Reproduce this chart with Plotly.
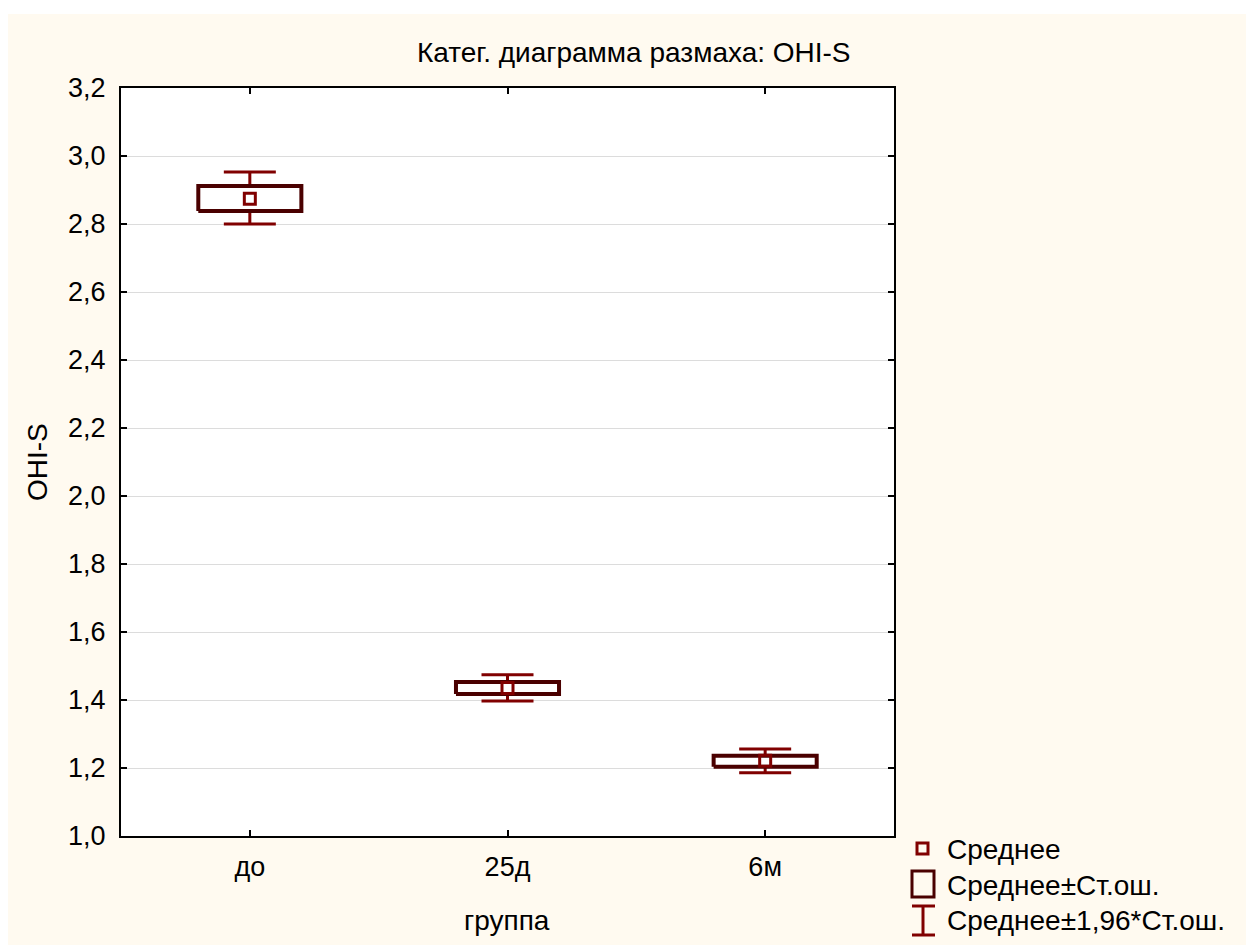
import plotly.graph_objects as go

# ---- data ----
groups = ["до", "25д", "6м"]
means = [2.874, 1.435, 1.221]
se_lo = [2.838, 1.418, 1.204]
se_hi = [2.912, 1.453, 1.236]
ci_lo = [2.800, 1.397, 1.186]
ci_hi = [2.953, 1.474, 1.256]
y_ticks = [1.0, 1.2, 1.4, 1.6, 1.8, 2.0, 2.2, 2.4, 2.6, 2.8, 3.0, 3.2]

title_text = "Катег. диаграмма размаха: OHI-S"
x_title = "группа"
y_title = "OHI-S"
legend_labels = ["Среднее", "Среднее±Ст.ош.", "Среднее±1,96*Ст.ош."]

# ---- layout geometry ----
W, H = 1246, 945
L, R, T, B = 121, 894, 88, 836
CREAM = "#fffaf0"
RED = "#800000"
DARK = "#4a0000"
FONT = "Liberation Sans, Arial, sans-serif"
FS = 27
FS_TXT = 28

def px(xpix):
    return (xpix - L) / (R - L)

def py(ypix):
    return (B - ypix) / (B - T)

xs = list(range(len(groups)))
half_box = 0.2

fig = go.Figure()

# whiskers: mean ± 1.96*SE
fig.add_trace(go.Scatter(
    x=xs, y=means, mode="markers",
    marker=dict(size=1, color="rgba(0,0,0,0)"),
    error_y=dict(type="data", symmetric=False,
                 array=[h - m for h, m in zip(ci_hi, means)],
                 arrayminus=[m - l for m, l in zip(means, ci_lo)],
                 color=RED, thickness=3, width=26),
    showlegend=False, hoverinfo="skip"))

# boxes: mean ± SE
for i, (lo, hi) in enumerate(zip(se_lo, se_hi)):
    fig.add_trace(go.Scatter(
        x=[i - half_box, i + half_box, i + half_box, i - half_box, i - half_box],
        y=[lo, lo, hi, hi, lo], mode="lines", fill="toself",
        fillcolor="white", line=dict(color=DARK, width=4),
        showlegend=False, hoverinfo="skip"))

# mean markers
fig.add_trace(go.Scatter(
    x=xs, y=means, mode="markers",
    marker=dict(symbol="square-open", size=11, color=RED, line=dict(width=3, color=RED)),
    showlegend=False))

shapes = [
    # white strips outside the cream area
    dict(type="rect", xref="paper", yref="paper", x0=px(0), x1=px(W), y0=py(14), y1=py(0),
         fillcolor="white", line=dict(width=0), layer="below"),
    dict(type="rect", xref="paper", yref="paper", x0=px(0), x1=px(8), y0=py(H), y1=py(0),
         fillcolor="white", line=dict(width=0), layer="below"),
    # legend symbols
    dict(type="rect", xref="paper", yref="paper", x0=px(917), x1=px(928), y0=py(854), y1=py(843),
         fillcolor="rgba(0,0,0,0)", line=dict(color=RED, width=3)),
    dict(type="rect", xref="paper", yref="paper", x0=px(912), x1=px(934), y0=py(897), y1=py(871),
         fillcolor="rgba(0,0,0,0)", line=dict(color=DARK, width=3)),
    dict(type="line", xref="paper", yref="paper", x0=px(923), x1=px(923), y0=py(935), y1=py(906),
         line=dict(color=RED, width=3)),
    dict(type="line", xref="paper", yref="paper", x0=px(912), x1=px(935), y0=py(906), y1=py(906),
         line=dict(color=RED, width=3)),
    dict(type="line", xref="paper", yref="paper", x0=px(912), x1=px(935), y0=py(935), y1=py(935),
         line=dict(color=RED, width=3)),
]

annotations = [
    dict(text=title_text, xref="paper", yref="paper", x=px(634), y=py(53),
         showarrow=False, font=dict(size=FS_TXT, color="black", family=FONT),
         xanchor="center", yanchor="middle"),
    dict(text=x_title, xref="paper", yref="paper", x=px(507), y=py(920),
         showarrow=False, font=dict(size=FS_TXT, color="black", family=FONT),
         xanchor="center", yanchor="middle"),
    dict(text=y_title, xref="paper", yref="paper", x=px(37), y=py(462), textangle=-90,
         showarrow=False, font=dict(size=FS_TXT, color="black", family=FONT),
         xanchor="center", yanchor="middle"),
]
for lab, ypix in zip(legend_labels, [849, 885, 920]):
    annotations.append(dict(text=lab, xref="paper", yref="paper", x=px(945), y=py(ypix),
                            showarrow=False, font=dict(size=FS_TXT, color="black", family=FONT),
                            xanchor="left", yanchor="middle"))

fig.update_layout(
    width=W, height=H,
    margin=dict(l=L, r=W - R, t=T, b=H - B),
    paper_bgcolor=CREAM, plot_bgcolor="white",
    separators=", ",
    font=dict(family=FONT, size=FS, color="black"),
    shapes=shapes, annotations=annotations,
    showlegend=False,
)
fig.update_xaxes(
    range=[-0.5, 2.5], tickmode="array", tickvals=xs, ticktext=groups,
    showgrid=False, zeroline=False,
    showline=True, linecolor="black", linewidth=2, mirror="ticks",
    ticks="inside", ticklen=6, tickwidth=1.5, tickcolor="black",
    tickfont=dict(size=FS), ticklabelstandoff=6,
)
fig.update_yaxes(
    range=[1.0, 3.2], tickmode="array", tickvals=y_ticks, tickformat=".1f",
    showgrid=True, gridcolor="#dcdcdc", gridwidth=1, zeroline=False,
    showline=True, linecolor="black", linewidth=2, mirror="ticks",
    ticks="inside", ticklen=6, tickwidth=1.5, tickcolor="black",
    tickfont=dict(size=FS), ticklabelstandoff=8,
)

fig.write_html("out.html")
